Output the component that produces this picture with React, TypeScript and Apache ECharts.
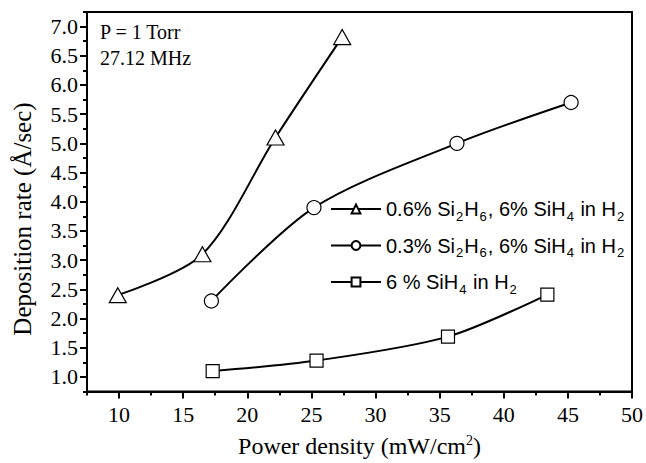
import React, { useEffect, useRef } from "react";
import * as echarts from "echarts";

const seriesNames = ["tri", "circ", "sq"];
const legendLabels = [
  "0.6% Si{sub|2}H{sub|6}, 6% SiH{sub|4} in H{sub|2}",
  "0.3% Si{sub|2}H{sub|6}, 6% SiH{sub|4} in H{sub|2}",
  "6 % SiH{sub|4} in H{sub|2}",
];
const symbols = ["triangle", "circle", "rect"];
const symbolSizes = [[17, 15], 14, 13];

const triData = [
  [9.9, 2.4],
  [16.5, 3.1],
  [22.2, 5.1],
  [27.4, 6.82],
];
const circData = [
  [17.2, 2.3],
  [25.2, 3.9],
  [36.35, 5.0],
  [45.25, 5.7],
];
const sqData = [
  [17.3, 1.1],
  [25.4, 1.28],
  [35.65, 1.69],
  [43.4, 2.41],
];

const xMajorTicks = [10, 15, 20, 25, 30, 35, 40, 45, 50];
const xMinorTicks = [7.5, 12.5, 17.5, 22.5, 27.5, 32.5, 37.5, 42.5, 47.5];
const yMajorTicks = [1.0, 1.5, 2.0, 2.5, 3.0, 3.5, 4.0, 4.5, 5.0, 5.5, 6.0, 6.5, 7.0];
const yMinorTicks = [0.75, 1.25, 1.75, 2.25, 2.75, 3.25, 3.75, 4.25, 4.75, 5.25, 5.75, 6.25, 6.75, 7.25];

const annotations = ["P = 1 Torr", "27.12 MHz"];
const yTitle = "Deposition rate (Å/sec)";
const xTitle = "Power density (mW/cm{sup|2})";

const serif = "'Liberation Serif', 'Times New Roman', serif";
const sans = "'Liberation Sans', Arial, sans-serif";

export default function App() {
  const ref = useRef<HTMLDivElement>(null);
  useEffect(() => {
    const chart = echarts.init(ref.current!, undefined, { renderer: "svg" });
    const datas = [triData, circData, sqData];
    const labelMap: Record<string, string> = {};
    seriesNames.forEach((n, i) => (labelMap[n] = legendLabels[i]));
    chart.setOption({
      animation: false,
      backgroundColor: "#fff",
      grid: {
        left: 87,
        top: 12,
        right: 13,
        bottom: 68,
        show: true,
        borderColor: "#000",
        borderWidth: 2,
        containLabel: false,
      },
      xAxis: [
        {
          type: "value",
          min: 7.5,
          max: 50,
          position: "bottom",
          splitLine: { show: false },
          axisLine: { lineStyle: { color: "#000", width: 2 } },
          axisTick: { customValues: xMajorTicks, length: 7, lineStyle: { color: "#000", width: 2 } },
          axisLabel: {
            customValues: xMajorTicks,
            color: "#000",
            fontFamily: serif,
            fontSize: 22,
            margin: 12,
            formatter: (v: number) => String(v),
          },
          name: xTitle,
          nameLocation: "middle",
          nameGap: 42,
          nameTextStyle: {
            color: "#000",
            fontFamily: serif,
            fontSize: 24,
            rich: { sup: { fontSize: 14, fontFamily: serif, color: "#000", padding: [0, 0, 11, 0] } },
          },
        },
        {
          type: "value",
          min: 7.5,
          max: 50,
          position: "bottom",
          splitLine: { show: false },
          axisLine: { show: false },
          axisTick: { customValues: xMinorTicks, length: 4, lineStyle: { color: "#000", width: 2 } },
          axisLabel: { show: false },
        },
      ],
      yAxis: [
        {
          type: "value",
          min: 0.75,
          max: 7.25,
          position: "left",
          splitLine: { show: false },
          axisLine: { lineStyle: { color: "#000", width: 2 } },
          axisTick: { customValues: yMajorTicks, length: 7, lineStyle: { color: "#000", width: 2 } },
          axisLabel: {
            customValues: yMajorTicks,
            color: "#000",
            fontFamily: serif,
            fontSize: 22,
            margin: 9,
            formatter: (v: number) => v.toFixed(1),
          },
        },
        {
          type: "value",
          min: 0.75,
          max: 7.25,
          position: "left",
          splitLine: { show: false },
          axisLine: { show: false },
          axisTick: { customValues: yMinorTicks, length: 4, lineStyle: { color: "#000", width: 2 } },
          axisLabel: { show: false },
        },
      ],
      legend: {
        orient: "vertical",
        left: 330,
        top: 199,
        padding: 0,
        itemWidth: 50,
        itemHeight: 11,
        itemGap: 13,
        data: seriesNames,
        formatter: (name: string) => labelMap[name],
        textStyle: {
          color: "#000",
          fontFamily: sans,
          fontSize: 20,
          rich: {
            sub: { fontFamily: sans, fontSize: 13, color: "#000", padding: [14, 1, 0, 1] },
          },
        },
      },
      graphic: [
        ...annotations.map((t, i) => ({
          type: "text",
          left: 100,
          top: 22 + i * 26,
          style: { text: t, font: `20px ${serif}`, fill: "#000" },
        })),
        {
          type: "text",
          x: 22,
          y: 219,
          rotation: Math.PI / 2,
          style: {
            text: yTitle,
            font: `25px ${serif}`,
            fill: "#000",
            textAlign: "center",
            textVerticalAlign: "middle",
          },
        },
      ],
      series: seriesNames.map((n, i) => ({
        name: n,
        type: "line",
        data: datas[i],
        smooth: 0.3,
        symbol: symbols[i],
        symbolSize: symbolSizes[i],
        showAllSymbol: true,
        lineStyle: { color: "#000", width: 2 },
        itemStyle: { color: "#fff", borderColor: "#000", borderWidth: 1.2 },
        z: 3,
      })),
    });
    return () => chart.dispose();
  }, []);
  return (
    <div
      ref={ref}
      style={{ position: "absolute", left: 0, top: 0, width: 646, height: 463 }}
    />
  );
}
